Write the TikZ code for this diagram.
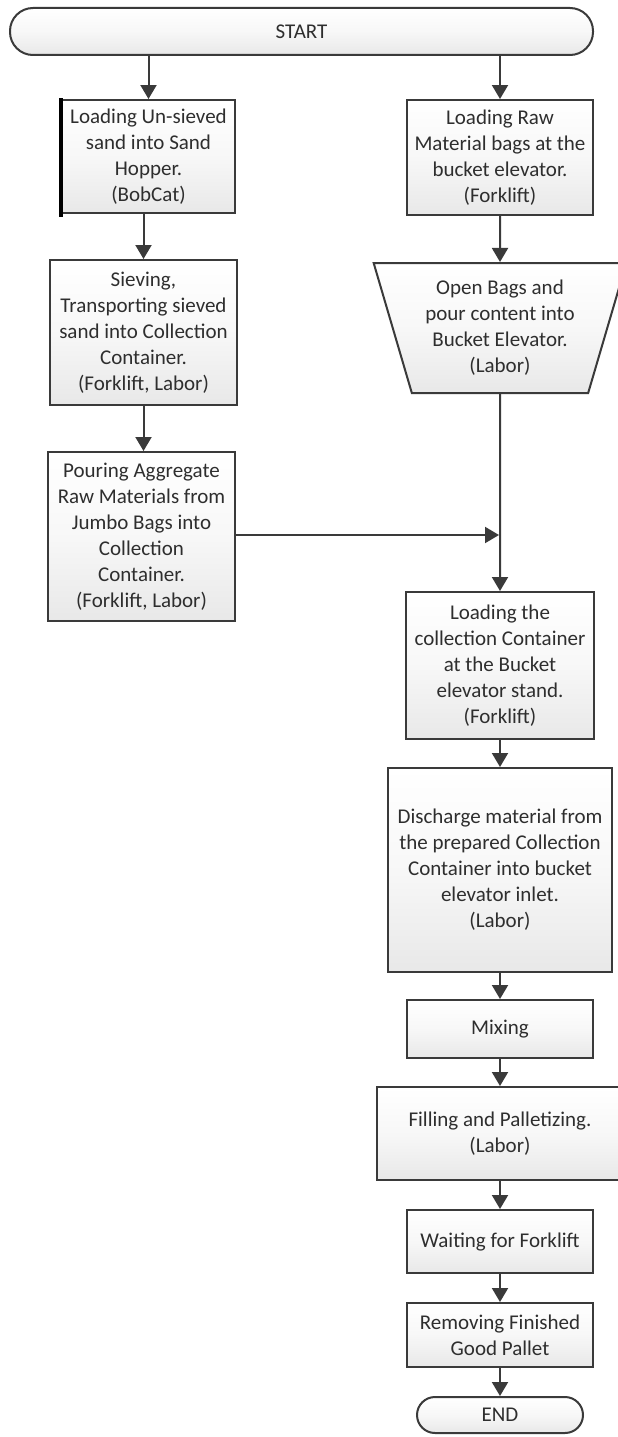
\documentclass[tikz,border=0pt]{standalone}
\usepackage{fontspec}
\setmainfont{Carlito}
\usetikzlibrary{arrows.meta,shapes.geometric}
\definecolor{ln}{HTML}{3a3a3a}
\definecolor{tx}{HTML}{2e2e2e}
\tikzset{
  base/.style={draw=ln, line width=2pt, top color=white, bottom color=gray!18, middle color=gray!6,
    text=tx, align=center, inner sep=0pt, font=\fontsize{21}{26}\selectfont},
  box/.style={base, rectangle},
  term/.style={base, rectangle, rounded corners=#1},
  arr/.style={draw=ln, line width=2pt, -{Triangle[length=14pt,width=16pt]}},
}
\begin{document}
\begin{tikzpicture}[x=1pt,y=-1pt]
\useasboundingbox[fill=white] (0,0) rectangle (618,1437);
\node[term=23pt, minimum width=583pt, minimum height=47pt] (start) at (301.5,31.5) {START};
\node[box, minimum width=173pt, minimum height=113pt] (l1) at (148.5,156.5) {Loading Un-sieved\\sand into Sand\\Hopper.\\(BobCat)};
\draw[line width=4pt, black] ([yshift=1pt]l1.north west) -- ([yshift=-3pt]l1.south west);
\node[box, minimum width=186pt, minimum height=115pt] (r1) at (500,157.5) {Loading Raw\\Material bags at the\\bucket elevator.\\(Forklift)};
\node[box, minimum width=187pt, minimum height=145pt] (l2) at (143.5,332.5) {Sieving,\\Transporting sieved\\sand into Collection\\Container.\\(Forklift, Labor)};
\node[base, trapezium, shape border rotate=180, trapezium stretches=true, trapezium left angle=71.3, trapezium right angle=71.3, minimum width=253pt, minimum height=130pt] (trap) at (500,328) {Open Bags and\\pour content into\\Bucket Elevator.\\(Labor)};
\node[box, minimum width=187pt, minimum height=169pt] (l3) at (141.5,536.5) {Pouring Aggregate\\Raw Materials from\\Jumbo Bags into\\Collection\\Container.\\(Forklift, Labor)};
\node[box, minimum width=188pt, minimum height=147pt] (r2) at (500,665.5) {Loading the\\collection Container\\at the Bucket\\elevator stand.\\(Forklift)};
\node[box, minimum width=224pt, minimum height=204pt] (r3) at (500,870) {Discharge material from\\the prepared Collection\\Container into bucket\\elevator inlet.\\(Labor)};
\node[box, minimum width=186pt, minimum height=58pt] (mix) at (500,1029) {Mixing};
\node[box, minimum width=246pt, minimum height=93pt] (fill) at (500,1133.5) {Filling and Palletizing.\\(Labor)};
\node[box, minimum width=186pt, minimum height=63pt] (wait) at (500,1241.5) {Waiting for Forklift};
\node[box, minimum width=186pt, minimum height=64pt] (rem) at (500,1335) {Removing Finished\\Good Pallet};
\node[term=18pt, minimum width=166pt, minimum height=36pt] (end) at (500,1415) {END};
\coordinate (join) at (500,535);
\draw[arr] (start.south -| l1.north) -- (l1.north);
\draw[arr] (start.south -| r1.north) -- (r1.north);
\draw[arr] (l1.south -| l2.north) -- (l2.north);
\draw[arr] (l2.south) -- (l2.south |- l3.north);
\draw[arr] (r1.south) -- (trap.north);
\draw[arr] (trap.south) -- (r2.north);
\draw[arr, shorten >=1pt] (l3.east |- join) -- (join);
\draw[arr] (r2.south) -- (r3.north);
\draw[arr] (r3.south) -- (mix.north);
\draw[arr] (mix.south) -- (fill.north);
\draw[arr] (fill.south) -- (wait.north);
\draw[arr] (wait.south) -- (rem.north);
\draw[arr] (rem.south) -- (end.north);
\end{tikzpicture}
\end{document}
